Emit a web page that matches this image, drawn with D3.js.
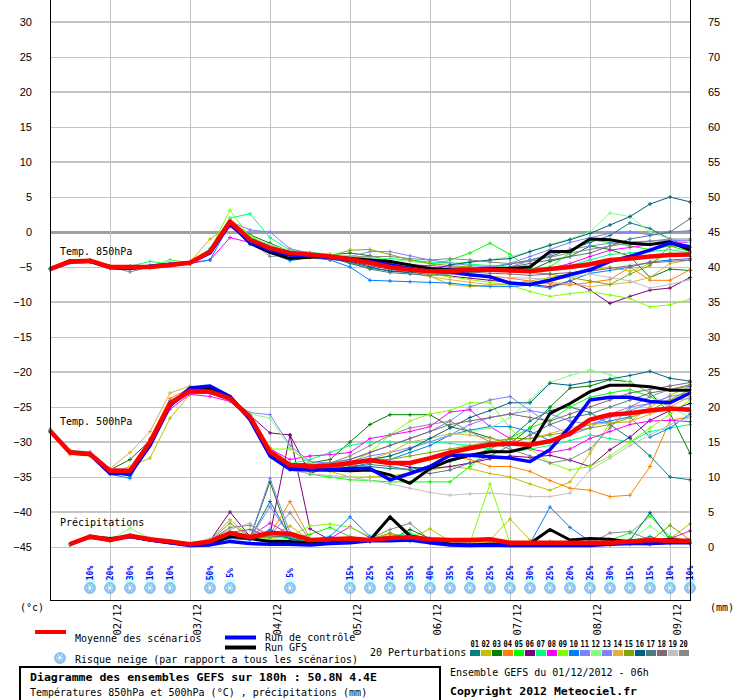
<!DOCTYPE html>
<html>
<head>
<meta charset="utf-8">
<script src="https://d3js.org/d3.v7.min.js"></script>
<style>
body { margin: 0; background: #fff; }
svg { display: block; }
text { font-family: "DejaVu Sans Mono", monospace; font-size: 10px; fill: #000; }
</style>
</head>
<body>
<div id="chart"></div>
<script>
// run 01/12/2012 06h, one value every 6h
let runStart = Date.UTC(2012, 11, 1, 6);
let stepHours = 6;

let tempTicks = [30, 25, 20, 15, 10, 5, 0, -5, -10, -15, -20, -25, -30, -35, -40, -45];
let mmTicks = [75, 70, 65, 60, 55, 50, 45, 40, 35, 30, 25, 20, 15, 10, 5, 0];

let memberNames = ['01','02','03','04','05','06','07','08','09','10','11','12','13','14','15','16','17','18','19','20'];
let memberColors = ['#008080','#c0c000','#008000','#ff8000','#00ff00','#800080','#00ff80','#ff00ff','#80ff00','#0080ff',
                    '#8080ff','#80ff80','#8080ff','#e0b040','#80a800','#006080','#507880','#806870','#c0c0c0','#888888'];

// 850 hPa temperature (°C)
let t850Mean = [-5.3,-4.2,-4.1,-5.0,-5.0,-5.0,-4.7,-4.4,-2.8,1.5,-1.1,-2.3,-3.0,-3.2,-3.5,-3.9,-4.4,-5.0,-5.4,-5.6,-5.6,-5.4,-5.4,-5.5,-5.6,-5.3,-5.0,-4.6,-4.0,-3.8,-3.5,-3.3,-3.2];
let t850Control = [-5.3,-4.3,-4.2,-5.1,-5.2,-4.9,-4.6,-4.4,-3.0,1.2,-1.5,-2.6,-3.3,-3.4,-3.6,-4.0,-4.2,-4.7,-5.2,-5.6,-5.7,-6.1,-6.4,-7.3,-7.5,-6.9,-6.1,-5.4,-4.2,-3.5,-2.6,-1.6,-2.1];
let t850Gfs = [-5.3,-4.1,-4.2,-5.0,-5.1,-5.0,-4.8,-4.4,-2.9,1.3,-1.6,-2.9,-3.8,-3.6,-3.5,-3.8,-4.0,-4.2,-4.7,-5.2,-5.4,-5.4,-5.2,-5.2,-5.0,-2.8,-2.8,-1.0,-1.1,-1.6,-1.8,-1.4,-2.6];
let t850Members = [
  [-5.3,-4.3,-4.0,-5.1,-5.3,-4.8,-4.6,-4.5,-2.5,1.8,-0.8,-2.0,-2.8,-3.3,-3.6,-4.5,-5.2,-5.5,-5.8,-6.0,-5.9,-5.5,-5.0,-4.6,-4.0,-3.5,-2.5,-1.5,-0.5,1.3,0.5,-1.0,-2.2],
  [-5.3,-4.2,-4.3,-4.9,-4.8,-5.0,-4.6,-4.3,-1.0,0.9,-1.6,-2.6,-3.4,-3.2,-3.6,-3.5,-4.0,-4.6,-5.3,-6.3,-7.5,-7.8,-7.6,-7.5,-7.0,-6.5,-6.0,-5.5,-5.0,-5.6,-4.5,-3.0,-3.5],
  [-5.3,-4.2,-4.2,-5.0,-5.0,-4.9,-4.7,-4.4,-2.8,1.6,-0.4,-1.6,-2.8,-3.0,-3.3,-3.0,-3.4,-4.1,-4.8,-5.3,-5.5,-5.1,-5.0,-5.3,-5.5,-4.2,-3.5,-2.0,-2.5,-3.5,-6.5,-5.3,-5.5],
  [-5.3,-4.3,-4.1,-5.1,-4.9,-5.1,-4.8,-4.4,-2.7,1.4,-1.0,-2.5,-3.0,-3.4,-3.6,-3.9,-4.7,-5.1,-5.4,-5.6,-5.8,-6.0,-6.3,-6.6,-7.0,-7.4,-7.6,-7.2,-6.8,-5.0,-6.9,-6.9,-5.4],
  [-5.3,-4.2,-4.0,-4.9,-5.0,-4.9,-4.0,-4.4,-2.6,1.0,-0.5,-2.4,-3.1,-3.0,-3.2,-3.6,-4.3,-4.6,-5.0,-4.8,-4.0,-3.0,-1.6,-3.2,-5.3,-5.0,-3.0,-1.1,-1.5,-2.0,-2.5,-2.0,-2.8],
  [-5.3,-4.3,-4.2,-5.1,-5.1,-5.0,-4.8,-4.5,-3.0,0.8,-1.5,-2.6,-3.3,-3.6,-3.9,-4.2,-4.8,-5.3,-5.7,-6.0,-6.3,-6.6,-6.9,-7.2,-7.5,-7.8,-7.0,-8.3,-10.2,-9.2,-8.3,-8.0,-6.5],
  [-5.3,-4.1,-4.0,-4.9,-4.9,-4.2,-4.6,-4.3,-2.4,2.0,2.6,-0.8,-2.6,-2.9,-3.2,-3.6,-3.7,-3.8,-4.0,-4.3,-4.4,-4.6,-4.8,-5.0,-5.2,-5.4,-4.8,-4.0,-3.2,-3.0,-2.8,-2.5,-3.0],
  [-5.3,-4.2,-4.1,-5.0,-5.0,-5.0,-4.7,-4.5,-4.0,-0.8,-1.5,-2.7,-3.2,-3.3,-3.5,-3.8,-4.2,-4.5,-4.7,-4.8,-5.0,-5.1,-5.3,-5.5,-5.5,-5.2,-4.5,-3.5,-2.6,-2.2,-1.8,-1.4,-1.5],
  [-5.3,-4.2,-4.1,-5.0,-5.1,-5.0,-4.7,-4.4,-2.6,3.1,-0.8,-2.2,-2.8,-3.0,-3.3,-4.0,-4.7,-5.2,-5.6,-6.0,-6.4,-6.8,-7.2,-7.6,-8.5,-9.2,-8.8,-8.5,-9.0,-9.5,-10.7,-10.4,-9.6],
  [-5.3,-4.3,-4.2,-5.0,-5.1,-4.9,-4.7,-4.4,-4.0,1.2,-1.8,-3.0,-4.1,-3.6,-4.0,-5.0,-6.9,-7.0,-7.1,-7.2,-7.3,-7.6,-7.8,-7.8,-7.6,-8.0,-7.0,-5.9,-5.5,-5.0,-4.3,-4.0,-3.8],
  [-5.3,-4.2,-4.1,-4.9,-4.9,-4.9,-4.6,-4.3,-2.6,1.5,0.3,0.0,-2.4,-3.0,-3.3,-3.5,-2.8,-2.8,-3.4,-4.0,-4.4,-4.8,-5.0,-4.5,-3.5,-2.5,-1.5,-0.8,-0.2,0.0,-0.4,0.0,0.2],
  [-5.3,-4.1,-4.0,-4.8,-4.9,-4.8,-4.1,-4.3,-2.5,1.8,-0.6,-1.8,-2.7,-3.0,-3.2,-3.4,-3.6,-3.9,-4.2,-4.5,-4.5,-4.3,-4.0,-3.5,-2.8,-1.8,-1.0,0.0,2.7,2.2,0.0,-1.0,-1.5],
  [-5.3,-4.2,-4.2,-5.0,-5.1,-5.0,-4.7,-4.4,-2.9,1.0,-1.2,-2.4,-3.1,-3.3,-3.6,-3.8,-4.1,-4.6,-5.2,-5.5,-5.6,-5.8,-5.5,-5.0,-4.0,-3.2,-2.5,-2.0,-1.6,-1.4,-1.3,-1.2,-1.2],
  [-5.3,-4.3,-4.2,-5.1,-5.2,-5.0,-4.7,-4.4,-3.0,1.3,-1.4,-2.5,-3.2,-3.4,-3.5,-3.8,-4.5,-5.1,-5.8,-6.4,-6.8,-7.2,-7.5,-7.4,-7.0,-7.2,-7.4,-7.8,-7.5,-7.2,-6.5,-4.5,-4.0],
  [-5.3,-4.2,-4.0,-4.9,-5.0,-4.9,-4.7,-4.4,-2.6,1.6,-0.9,-2.2,-2.9,-3.1,-3.4,-2.6,-2.5,-3.2,-4.0,-4.5,-4.8,-5.0,-5.2,-5.6,-5.8,-6.0,-6.5,-7.0,-7.5,-6.0,-4.8,-2.0,-2.2],
  [-5.3,-4.2,-4.1,-5.0,-5.0,-5.0,-4.7,-4.4,-2.7,1.4,-1.1,-2.3,-3.0,-3.4,-3.8,-4.3,-5.0,-5.6,-5.8,-5.5,-4.7,-4.3,-4.0,-3.8,-2.8,-1.9,-1.1,-0.2,1.0,2.2,4.0,5.0,4.3],
  [-5.3,-4.2,-4.1,-5.0,-5.0,-5.0,-4.7,-4.4,-2.8,1.2,-1.3,-2.4,-3.1,-3.3,-3.8,-4.4,-5.3,-5.8,-6.0,-6.2,-6.0,-5.8,-5.5,-5.0,-4.5,-4.0,-3.5,-3.0,-2.0,-1.0,-0.5,0.0,1.9],
  [-5.3,-4.3,-4.2,-5.1,-5.1,-5.0,-4.7,-4.4,-2.9,1.1,-1.3,-2.5,-3.2,-3.4,-3.6,-3.9,-4.4,-4.9,-5.3,-5.5,-5.6,-5.7,-5.9,-6.0,-6.2,-6.0,-5.8,-5.6,-5.2,-4.8,-4.4,-4.2,-4.0],
  [-5.3,-4.2,-4.1,-5.0,-5.0,-5.0,-4.7,-4.4,-2.7,1.7,-0.9,-2.1,-2.9,-3.2,-3.5,-3.8,-4.6,-5.2,-5.6,-5.9,-6.0,-6.2,-6.4,-6.5,-6.6,-6.8,-6.5,-6.0,-6.5,-7.0,-8.0,-7.5,-6.8],
  [-5.3,-4.2,-4.1,-5.0,-5.7,-5.0,-4.7,-4.4,-2.7,1.3,-1.2,-3.5,-3.3,-3.3,-3.4,-3.6,-3.5,-3.5,-3.8,-4.0,-3.8,-4.0,-4.3,-4.5,-4.2,-3.6,-3.0,-2.5,-2.0,-1.6,-1.3,-1.0,-1.0]
];

// 500 hPa temperature (°C)
let t500Mean = [-28.4,-31.5,-31.7,-34.1,-34.1,-30.0,-24.5,-22.7,-22.8,-23.8,-26.4,-31.4,-33.3,-33.5,-33.4,-33.0,-32.6,-33.0,-33.0,-32.3,-31.5,-30.9,-30.4,-30.2,-30.4,-29.9,-28.8,-26.8,-26.1,-25.9,-25.5,-25.2,-25.4];
let t500Control = [-28.4,-31.5,-31.8,-34.5,-34.5,-30.5,-24.8,-22.3,-22.0,-23.5,-26.8,-32.0,-33.9,-34.0,-34.0,-33.8,-33.8,-35.4,-34.5,-33.5,-31.9,-31.9,-32.1,-32.3,-32.8,-31.1,-27.8,-24.0,-23.6,-23.6,-24.2,-24.4,-23.0];
let t500Gfs = [-28.4,-31.4,-31.7,-34.3,-34.6,-30.4,-24.6,-22.5,-22.4,-23.6,-26.6,-31.8,-33.6,-33.8,-34.0,-34.1,-34.0,-34.7,-35.9,-33.8,-32.6,-31.9,-31.4,-31.4,-30.7,-25.9,-24.5,-22.8,-21.9,-21.9,-22.1,-22.6,-22.6];
let t500Members = [
  [-28.3,-31.6,-31.6,-34.3,-34.9,-30.2,-24.6,-22.6,-22.7,-23.7,-26.7,-31.9,-34.0,-34.0,-33.8,-33.3,-33.5,-33.8,-33.9,-33.5,-32.8,-32.0,-31.0,-29.5,-27.0,-25.5,-25.0,-25.8,-27.5,-29.5,-32.0,-35.0,-35.4],
  [-28.2,-31.8,-32.0,-34.4,-33.5,-32.3,-26.6,-23.2,-22.9,-23.6,-26.0,-30.8,-33.0,-33.6,-34.2,-35.0,-35.0,-34.8,-34.5,-34.0,-33.5,-33.8,-34.5,-35.0,-36.0,-36.9,-35.7,-31.6,-27.3,-27.1,-25.0,-23.3,-22.1],
  [-28.4,-31.4,-31.6,-34.0,-32.5,-29.8,-24.3,-22.6,-22.7,-23.9,-26.3,-31.0,-33.2,-33.0,-32.5,-30.0,-27.5,-26.1,-26.1,-26.1,-27.8,-28.5,-29.4,-30.2,-28.0,-25.0,-22.3,-22.0,-21.1,-21.4,-23.0,-25.9,-31.6],
  [-28.4,-31.5,-31.8,-34.2,-33.9,-29.5,-23.8,-22.3,-22.5,-23.6,-26.5,-31.6,-33.8,-34.0,-33.8,-33.2,-32.8,-33.2,-33.0,-32.5,-32.0,-32.5,-33.5,-33.5,-34.2,-35.5,-36.6,-36.9,-37.8,-37.6,-33.5,-26.9,-26.4],
  [-28.4,-31.6,-31.7,-34.3,-34.0,-30.2,-24.6,-22.8,-23.0,-24.0,-26.5,-31.7,-33.8,-34.6,-35.0,-35.4,-35.5,-35.7,-35.7,-35.7,-35.7,-33.5,-31.0,-29.5,-28.0,-26.9,-25.0,-23.6,-23.0,-22.5,-23.5,-25.0,-25.5],
  [-28.4,-31.4,-31.6,-33.9,-34.0,-30.3,-24.9,-23.0,-23.1,-24.0,-26.2,-28.7,-29.0,-34.5,-33.5,-33.0,-32.5,-33.0,-33.6,-33.8,-33.5,-33.0,-32.4,-32.0,-32.2,-31.9,-32.6,-33.5,-31.1,-29.3,-26.9,-25.5,-24.5],
  [-28.4,-31.5,-31.7,-34.2,-34.3,-30.1,-24.4,-22.6,-22.8,-23.9,-26.6,-31.3,-33.1,-32.5,-31.5,-30.5,-30.0,-30.0,-30.0,-30.0,-30.2,-30.5,-31.0,-31.5,-31.0,-30.5,-29.8,-29.0,-29.5,-30.0,-28.5,-28.0,-27.5],
  [-28.4,-31.5,-31.6,-34.0,-34.0,-30.5,-25.3,-23.2,-23.5,-24.2,-26.8,-31.0,-32.5,-32.0,-31.8,-31.5,-29.5,-29.0,-28.5,-27.8,-25.7,-25.4,-27.8,-29.5,-31.0,-31.5,-31.0,-29.5,-28.5,-27.5,-27.0,-26.9,-27.1],
  [-28.4,-31.5,-31.7,-34.1,-34.0,-29.8,-24.2,-22.7,-22.9,-24.0,-26.4,-31.0,-31.0,-33.0,-33.5,-33.0,-31.5,-29.0,-27.0,-26.0,-25.5,-24.4,-24.4,-28.0,-31.0,-33.0,-34.0,-33.5,-32.0,-30.0,-28.0,-26.0,-24.0],
  [-28.5,-31.6,-31.9,-34.6,-35.2,-30.0,-24.5,-22.8,-23.0,-24.1,-26.7,-31.8,-33.5,-33.8,-34.0,-33.6,-33.0,-32.5,-31.5,-30.5,-29.0,-28.3,-27.8,-27.8,-28.5,-29.8,-28.5,-27.5,-27.0,-26.4,-29.3,-28.0,-26.0],
  [-28.3,-31.2,-31.4,-33.8,-33.9,-29.6,-24.1,-22.4,-22.8,-24.0,-25.8,-26.1,-30.5,-32.8,-33.0,-32.5,-31.5,-30.5,-29.5,-28.5,-27.0,-25.0,-24.0,-23.5,-25.5,-27.5,-29.0,-28.0,-26.0,-25.0,-24.5,-24.0,-23.8],
  [-28.4,-31.5,-31.8,-34.2,-34.1,-30.1,-24.5,-22.7,-22.9,-24.0,-26.0,-26.6,-30.8,-33.0,-33.2,-33.0,-32.5,-32.0,-31.0,-30.0,-29.0,-28.5,-28.0,-26.5,-24.0,-21.5,-20.5,-19.7,-20.4,-21.5,-23.0,-25.0,-26.5],
  [-28.4,-31.5,-31.7,-34.1,-34.2,-30.3,-24.7,-22.9,-23.0,-24.1,-26.5,-32.0,-33.6,-33.8,-33.5,-32.8,-32.0,-31.5,-30.8,-30.0,-29.0,-27.5,-26.5,-26.0,-25.5,-26.0,-27.0,-27.5,-26.5,-25.5,-24.5,-23.5,-23.0],
  [-28.2,-31.2,-31.5,-33.8,-31.5,-28.5,-23.0,-22.0,-22.3,-23.4,-26.2,-31.5,-33.5,-34.0,-34.0,-33.5,-32.5,-31.5,-30.0,-29.5,-28.8,-29.0,-29.5,-30.0,-29.5,-28.8,-28.0,-27.5,-27.3,-27.1,-26.0,-25.0,-23.5],
  [-28.4,-31.6,-31.8,-34.2,-34.3,-30.4,-24.8,-22.9,-23.0,-24.0,-26.3,-31.2,-33.3,-33.5,-33.2,-32.8,-32.4,-32.5,-32.0,-31.5,-31.0,-30.5,-30.0,-29.5,-29.5,-29.0,-28.5,-28.0,-27.5,-26.5,-25.5,-24.0,-22.5],
  [-28.4,-31.5,-31.7,-34.1,-34.1,-30.0,-24.4,-22.6,-22.7,-23.8,-26.5,-31.5,-33.4,-33.6,-33.5,-33.0,-32.5,-32.0,-31.0,-29.5,-28.0,-26.5,-25.5,-24.4,-24.4,-21.6,-21.9,-21.4,-21.0,-20.5,-19.9,-20.9,-21.3],
  [-28.4,-31.4,-31.6,-34.0,-34.0,-29.9,-24.3,-22.5,-22.6,-23.7,-26.3,-31.4,-33.4,-33.7,-33.8,-33.6,-33.2,-33.5,-34.0,-34.5,-34.0,-33.0,-32.0,-30.5,-29.0,-27.5,-26.5,-26.0,-25.0,-24.0,-23.0,-22.5,-22.0],
  [-28.4,-31.5,-31.7,-34.1,-34.2,-30.1,-24.6,-22.7,-22.8,-23.8,-26.4,-31.5,-33.3,-33.3,-33.0,-32.5,-31.5,-30.5,-29.5,-28.5,-27.5,-27.0,-26.5,-26.0,-26.5,-27.0,-26.0,-25.0,-24.0,-23.0,-22.5,-22.0,-21.5],
  [-28.4,-31.6,-31.8,-34.3,-34.4,-30.2,-24.7,-22.8,-23.0,-24.0,-26.5,-32.0,-34.0,-34.5,-34.8,-35.0,-35.5,-36.0,-36.6,-37.2,-37.6,-37.4,-37.3,-37.5,-37.8,-37.8,-37.3,-34.0,-32.3,-30.5,-29.0,-27.5,-26.5],
  [-28.4,-31.5,-31.7,-34.1,-34.0,-30.0,-24.5,-22.6,-22.7,-23.8,-26.3,-31.2,-33.2,-33.4,-33.0,-32.0,-30.5,-29.0,-28.0,-27.5,-27.0,-28.5,-30.0,-31.0,-32.0,-33.0,-32.5,-31.0,-28.0,-25.0,-23.5,-22.5,-21.8]
];

// 6h precipitation (mm), none for the first step
let precipMean = [null,0.4,1.5,1.0,1.6,1.1,0.8,0.4,0.8,2.0,1.4,2.0,1.9,1.0,1.1,1.2,1.0,1.3,1.4,1.1,1.0,1.0,1.1,0.6,0.6,0.6,0.6,0.6,0.6,0.8,1.0,0.9,0.9];
let precipControl = [null,0.4,1.4,1.0,1.5,1.0,0.6,0.2,0.3,0.8,0.5,0.4,0.4,0.3,0.5,0.6,0.9,0.9,1.0,0.6,0.3,0.2,0.3,0.2,0.2,0.2,0.2,0.2,0.4,0.5,0.5,0.6,0.6];
let precipGfs = [null,0.4,1.5,1.2,1.5,1.0,0.6,0.3,0.5,1.5,1.2,0.8,0.8,0.5,0.6,0.9,1.0,4.3,1.6,1.0,0.4,0.3,0.4,0.3,0.5,2.5,1.0,1.2,1.1,0.7,0.8,1.1,0.8];
let precipMembers = [
  [null,0.4,1.4,1.0,1.5,1.0,0.7,0.3,0.6,1.5,1.2,6.5,1.5,0.5,0.8,1.0,0.8,1.2,1.5,0.8,0.6,0.4,0.5,0.3,0.3,0.4,0.3,0.4,0.5,0.8,1.5,0.6,0.5],
  [null,0.4,1.5,1.1,1.6,1.2,0.8,0.4,1.0,3.9,1.5,1.5,3.0,1.0,0.8,0.9,1.0,1.8,1.2,2.6,0.8,0.6,1.0,4.0,1.0,0.5,0.4,0.4,0.5,0.6,0.8,1.2,3.3],
  [null,0.4,1.5,0.9,1.7,1.1,0.8,0.4,0.7,2.0,1.3,9.3,1.2,0.6,0.7,0.8,1.0,1.0,2.5,1.2,1.0,0.8,0.6,0.3,0.4,0.5,0.4,0.3,0.4,0.6,1.2,0.8,0.6],
  [null,0.4,1.5,1.0,1.5,1.0,0.8,0.4,0.7,1.8,1.4,1.8,6.5,1.2,0.9,1.0,1.2,1.5,1.0,0.8,0.5,0.4,0.4,0.3,0.3,0.4,0.3,0.2,0.3,0.4,0.3,0.6,0.5],
  [null,0.3,1.4,1.0,1.6,1.1,0.7,0.4,0.8,1.9,1.2,1.5,1.2,1.8,2.8,1.5,1.0,1.2,1.0,0.7,0.6,0.4,0.5,0.4,0.6,0.8,0.7,0.6,1.0,2.0,4.4,1.5,0.8],
  [null,0.4,1.5,1.0,1.6,1.0,0.8,0.4,0.9,5.0,1.5,1.8,16.0,2.6,1.0,1.0,0.8,4.3,1.2,0.8,0.5,0.4,0.6,0.4,0.3,0.3,0.4,0.3,0.4,0.5,0.8,0.7,0.6],
  [null,0.4,1.5,1.0,1.6,1.1,0.8,0.4,0.6,1.6,1.2,1.0,1.2,0.6,0.9,1.0,1.2,1.5,2.0,1.0,0.8,0.5,0.4,0.3,0.4,0.3,0.4,0.6,0.8,1.0,1.3,0.9,0.7],
  [null,0.4,1.5,1.0,1.6,1.1,0.8,0.4,0.8,2.2,1.5,3.4,1.8,1.0,1.2,2.9,1.3,1.2,1.0,0.8,0.6,0.5,0.5,0.4,0.4,0.3,0.5,0.4,0.5,0.6,0.9,1.2,2.3],
  [null,0.4,1.4,1.0,1.5,1.0,0.7,0.4,0.7,1.7,1.3,1.2,1.5,3.0,3.3,2.8,1.5,1.0,0.8,0.6,0.5,0.6,9.0,0.5,0.3,0.4,0.3,0.4,0.3,0.5,0.6,0.7,0.5],
  [null,0.4,1.4,1.0,1.5,1.0,0.7,0.3,0.5,1.2,1.0,2.5,1.3,1.0,1.5,4.3,1.5,1.2,0.9,0.7,0.5,0.4,0.4,0.3,0.5,5.7,2.8,0.8,0.5,0.4,0.5,0.6,0.5],
  [null,0.4,1.5,1.0,1.7,1.1,0.8,0.4,0.8,2.0,1.3,9.8,2.0,0.8,0.8,0.9,1.0,1.4,1.1,0.8,0.6,0.5,0.4,0.4,0.3,0.3,0.3,0.3,0.4,0.5,0.6,0.5,0.5],
  [null,0.4,1.6,1.0,2.7,1.2,0.8,0.4,0.8,2.2,1.4,1.6,1.4,0.9,1.0,1.1,1.2,1.3,1.2,0.9,0.7,0.5,0.5,0.4,0.4,0.4,0.4,0.5,0.7,1.0,3.0,1.0,0.7],
  [null,0.4,1.5,1.0,1.6,1.1,0.8,0.4,0.7,1.8,1.2,5.8,1.6,0.8,0.9,1.0,1.1,1.2,1.0,0.7,0.5,0.4,0.4,0.4,0.3,0.3,0.4,0.4,0.4,0.5,0.6,0.5,0.6],
  [null,0.4,1.5,1.0,1.6,1.1,0.8,0.5,0.9,2.2,1.6,1.5,1.6,1.0,1.0,1.0,1.1,1.3,1.5,1.0,0.8,0.7,0.6,0.5,0.4,0.4,0.5,0.4,0.5,0.6,0.7,0.6,0.6],
  [null,0.4,1.5,1.0,1.6,1.1,0.8,0.4,0.9,3.4,1.5,1.4,1.6,0.9,0.9,1.0,1.1,2.0,1.2,0.9,0.7,0.5,0.5,0.4,0.4,0.4,0.4,0.4,0.5,0.6,0.8,3.1,1.0],
  [null,0.4,1.4,1.0,1.5,1.0,0.7,0.4,0.6,1.6,1.2,2.0,1.2,0.6,0.7,0.8,0.9,1.0,0.9,0.6,0.4,0.3,0.3,0.2,0.3,0.3,0.4,0.4,0.5,1.0,4.9,1.0,0.5],
  [null,0.4,1.5,1.0,1.6,1.1,0.8,0.4,0.8,2.0,1.3,1.5,1.5,0.8,0.9,1.0,1.0,1.2,1.3,0.8,0.6,0.5,0.4,0.3,0.3,0.3,0.3,0.3,0.4,0.5,0.6,0.6,0.5],
  [null,0.4,1.5,1.0,1.6,1.1,0.8,0.4,0.8,2.1,2.5,1.5,1.8,0.9,1.0,1.0,1.0,1.3,1.2,0.8,0.6,0.5,0.5,0.4,0.4,0.4,0.4,0.4,0.4,0.5,0.6,0.6,0.6],
  [null,0.4,1.6,1.1,1.7,1.2,0.9,0.5,1.2,2.5,3.4,1.6,1.8,1.0,1.0,1.1,1.1,1.3,1.2,0.8,0.6,0.5,0.5,0.4,0.4,0.4,0.4,0.4,0.5,0.6,0.7,0.6,0.6],
  [null,0.4,1.5,1.0,1.6,1.1,0.8,0.4,0.9,2.8,3.1,1.6,4.9,1.0,1.0,1.0,1.2,2.5,3.4,1.0,0.7,0.5,0.5,0.4,0.4,0.4,0.5,0.5,2.0,2.2,1.0,0.8,0.6]
];

// snow risk: step index and share of scenarios (%)
let snowSteps = [2,3,4,5,6,8,9,12,15,16,17,18,19,20,21,22,23,24,25,26,27,28,29,30,31,32];
let snowRisk  = [10,20,30,10,10,50,5,5,15,25,25,35,40,35,20,25,25,30,25,20,25,30,15,15,10,10];

let stepTime = i => new Date(runStart + i * stepHours * 3600e3);

let svg = d3.select('#chart').append('svg')
    .attr('width', 740)
    .attr('height', 700);

let scaleX = d3.scaleUtc()
    .domain([stepTime(0), stepTime(32)])
    .range([50, 690]);

let scaleT = d3.scaleLinear()
    .domain([-45, 30])
    .range([547, 22]);

let scaleP = d3.scaleLinear()
    .domain([0, 75])
    .range([547, 22]);

let plotTop = 0, plotBottom = 600;

// horizontal grid
let grid = svg.append('g').attr('shape-rendering', 'crispEdges');
grid.selectAll('line.h')
    .data(tempTicks)
    .join('line')
    .attr('class', 'h')
    .attr('x1', scaleX.range()[0])
    .attr('x2', scaleX.range()[1])
    .attr('y1', d => Math.round(scaleT(d)))
    .attr('y2', d => Math.round(scaleT(d)))
    .attr('stroke', d => d == 0 ? '#a0a0a0' : '#c4c4c4')
    .attr('stroke-width', d => d == 0 ? 3 : (d % 10 == 0 ? 2 : 1));

// vertical grid, one per day
let days = scaleX.ticks(d3.utcDay.every(1));
grid.selectAll('line.v')
    .data(days)
    .join('line')
    .attr('class', 'v')
    .attr('x1', d => Math.round(scaleX(d)) + 0.5)
    .attr('x2', d => Math.round(scaleX(d)) + 0.5)
    .attr('y1', plotTop)
    .attr('y2', plotBottom)
    .attr('stroke', '#c4c4c4')
    .attr('stroke-width', 1);

// snow risk bars, labels and flakes
let snowScale = d3.scaleLinear().domain([0, 100]).range([3, 17]);
let snow = svg.append('g');
let snowData = snowSteps.map((s, i) => ({step: s, risk: snowRisk[i]}));

snow.selectAll('rect')
    .data(snowData)
    .join('rect')
    .attr('x', d => scaleX(stepTime(d.step)) - 5)
    .attr('y', d => 583 - snowScale(d.risk))
    .attr('width', 10)
    .attr('height', d => snowScale(d.risk))
    .attr('fill', '#c8ffff');

snow.selectAll('text')
    .data(snowData)
    .join('text')
    .attr('transform', d => `translate(${scaleX(stepTime(d.step)) + 3},573) rotate(-90)`)
    .attr('text-anchor', 'middle')
    .style('font-size', '8px')
    .style('font-weight', 'bold')
    .style('fill', '#0000ff')
    .text(d => d.risk + '%');

function flake(sel) {
    sel.append('circle').attr('r', 5.5).attr('fill', '#8cc6f2').attr('stroke', '#6aaee6').attr('stroke-width', 0.6);
    [0, 60, 120].forEach(a => {
        sel.append('line')
            .attr('x1', -4).attr('x2', 4).attr('y1', 0).attr('y2', 0)
            .attr('transform', `rotate(${a})`)
            .attr('stroke', '#ffffff').attr('stroke-width', 1).attr('stroke-dasharray', '1,1');
    });
    sel.append('circle').attr('r', 1.2).attr('fill', '#ffffff');
}

snow.selectAll('g.flake')
    .data(snowData)
    .join('g')
    .attr('class', 'flake')
    .attr('transform', d => `translate(${scaleX(stepTime(d.step))},588)`)
    .each(function() { flake(d3.select(this)); });

// lines
let lineT = d3.line()
    .defined(d => d != null)
    .x((d, i) => scaleX(stepTime(i)))
    .y(d => scaleT(d));

let lineP = d3.line()
    .defined(d => d != null)
    .x((d, i) => scaleX(stepTime(i)))
    .y(d => scaleP(d));

function crosses(values, scale) {
    let p = '';
    values.forEach((v, i) => {
        if (v == null) return;
        let x = scaleX(stepTime(i)), y = scale(v);
        p += `M${x - 2},${y}H${x + 2}M${x},${y - 2}V${y + 2}`;
    });
    return p;
}

let members = svg.append('g').attr('fill', 'none');
memberColors.forEach((c, m) => {
    [[t850Members[m], scaleT, lineT], [t500Members[m], scaleT, lineT], [precipMembers[m], scaleP, lineP]]
        .forEach(([vals, sc, gen]) => {
            members.append('path')
                .attr('d', gen(vals))
                .attr('stroke', c)
                .attr('stroke-width', 1);
            members.append('path')
                .attr('d', crosses(vals, sc))
                .attr('stroke', c)
                .attr('stroke-width', 1);
        });
});

let runs = svg.append('g').attr('fill', 'none').attr('stroke-linejoin', 'round');
[[t850Gfs, lineT], [t500Gfs, lineT], [precipGfs, lineP]].forEach(([v, gen]) => {
    runs.append('path').attr('d', gen(v)).attr('stroke', '#000').attr('stroke-width', 3);
});
[[t850Control, lineT], [t500Control, lineT], [precipControl, lineP]].forEach(([v, gen]) => {
    runs.append('path').attr('d', gen(v)).attr('stroke', '#0000ff').attr('stroke-width', 3.5);
});
[[t850Mean, lineT], [t500Mean, lineT], [precipMean, lineP]].forEach(([v, gen]) => {
    runs.append('path').attr('d', gen(v)).attr('stroke', '#ff0000').attr('stroke-width', 4.5);
});

// frame
let frame = svg.append('g').attr('stroke', '#000').attr('shape-rendering', 'crispEdges');
frame.append('line').attr('x1', 50.5).attr('x2', 50.5).attr('y1', plotTop).attr('y2', plotBottom + 1);
frame.append('line').attr('x1', 690.5).attr('x2', 690.5).attr('y1', plotTop).attr('y2', plotBottom + 1);
frame.append('line').attr('x1', 50).attr('x2', 691).attr('y1', plotBottom + 0.5).attr('y2', plotBottom + 0.5);

// axes
let axisLeft = svg.append('g')
    .attr('transform', 'translate(50,0)')
    .call(d3.axisLeft(scaleT).tickValues(tempTicks).tickSize(0).tickPadding(18));
axisLeft.select('.domain').remove();
axisLeft.selectAll('text').style('font-family', '"Liberation Sans", Arial, sans-serif').style('font-size', '11px');

let axisRight = svg.append('g')
    .attr('transform', 'translate(690,0)')
    .call(d3.axisRight(scaleP).tickValues(mmTicks).tickSize(0).tickPadding(18));
axisRight.select('.domain').remove();
axisRight.selectAll('text').style('font-family', '"Liberation Sans", Arial, sans-serif').style('font-size', '11px');

let axisX = svg.append('g')
    .attr('transform', `translate(0,${plotBottom})`)
    .call(d3.axisBottom(scaleX).tickValues(days).tickSize(0).tickFormat(d3.utcFormat('%d/%m')));
axisX.select('.domain').remove();
axisX.selectAll('text')
    .attr('transform', 'rotate(-90)')
    .attr('text-anchor', 'end')
    .attr('x', -4)
    .attr('y', 6.5)
    .attr('dy', '0.35em')
    .style('font-family', '"DejaVu Sans Mono", monospace')
    .style('font-size', '10.5px');

svg.append('text').attr('x', 20).attr('y', 607).attr('dy', '0.35em').text('(°c)');
svg.append('text').attr('x', 710).attr('y', 607).attr('dy', '0.35em').text('(mm)');

// in-plot labels
let panelLabels = [['Temp. 850hPa', 251], ['Temp. 500hPa', 421], ['Précipitations', 522]];
svg.selectAll('text.panel')
    .data(panelLabels)
    .join('text')
    .attr('class', 'panel')
    .attr('x', 60)
    .attr('y', d => d[1])
    .attr('dy', '0.35em')
    .text(d => d[0]);

// legend
let legend = svg.append('g');
legend.append('line').attr('x1', 35).attr('x2', 66).attr('y1', 632).attr('y2', 632).attr('stroke', '#ff0000').attr('stroke-width', 4);
legend.append('text').attr('x', 75).attr('y', 638).attr('dy', '0.35em').text('Moyenne des scénarios');
legend.append('line').attr('x1', 225).attr('x2', 256).attr('y1', 637.5).attr('y2', 637.5).attr('stroke', '#0000ff').attr('stroke-width', 4);
legend.append('text').attr('x', 265).attr('y', 637.5).attr('dy', '0.35em').text('Run de contrôle');
legend.append('line').attr('x1', 225).attr('x2', 256).attr('y1', 647.5).attr('y2', 647.5).attr('stroke', '#000').attr('stroke-width', 4);
legend.append('text').attr('x', 265).attr('y', 647.5).attr('dy', '0.35em').text('Run GFS');
legend.append('g').attr('transform', 'translate(60,658)').call(flake);
legend.append('text').attr('x', 75).attr('y', 659).attr('dy', '0.35em').text('Risque neige (par rapport a tous les scénarios)');

legend.append('text').attr('x', 370).attr('y', 652).attr('dy', '0.35em').text('20 Perturbations');
let sw = d3.scaleBand().domain(memberNames).range([470, 689]).paddingInner(0.08);
legend.selectAll('rect.sw')
    .data(memberNames)
    .join('rect')
    .attr('class', 'sw')
    .attr('x', d => sw(d))
    .attr('y', 650)
    .attr('width', sw.bandwidth())
    .attr('height', 6)
    .attr('fill', (d, i) => memberColors[i]);
legend.selectAll('text.sw')
    .data(memberNames)
    .join('text')
    .attr('class', 'sw')
    .attr('x', d => sw(d) + 0.5)
    .attr('y', 644)
    .attr('dy', '0.35em')
    .attr('textLength', 8.5)
    .attr('lengthAdjust', 'spacingAndGlyphs')
    .style('font-size', '8px')
    .style('font-weight', 'bold')
    .text(d => d);

legend.append('rect').attr('x', 20).attr('y', 667).attr('width', 420).attr('height', 40)
    .attr('fill', 'none').attr('stroke', '#000').attr('stroke-width', 2);
legend.append('text').attr('x', 30).attr('y', 677.5).attr('dy', '0.35em')
    .attr('textLength', 347).attr('lengthAdjust', 'spacingAndGlyphs')
    .style('font-weight', 'bold').style('font-size', '11px')
    .text('Diagramme des ensembles GEFS sur 180h : 50.8N 4.4E');
legend.append('text').attr('x', 30).attr('y', 692).attr('dy', '0.35em')
    .text('Températures 850hPa et 500hPa (°C) , précipitations (mm)');
legend.append('text').attr('x', 450).attr('y', 672).attr('dy', '0.35em')
    .text('Ensemble GEFS du 01/12/2012 - 06h');
legend.append('text').attr('x', 450).attr('y', 691).attr('dy', '0.35em')
    .attr('textLength', 187).attr('lengthAdjust', 'spacingAndGlyphs')
    .style('font-weight', 'bold').style('font-size', '11px')
    .text('Copyright 2012 Meteociel.fr');
</script>
</body>
</html>
